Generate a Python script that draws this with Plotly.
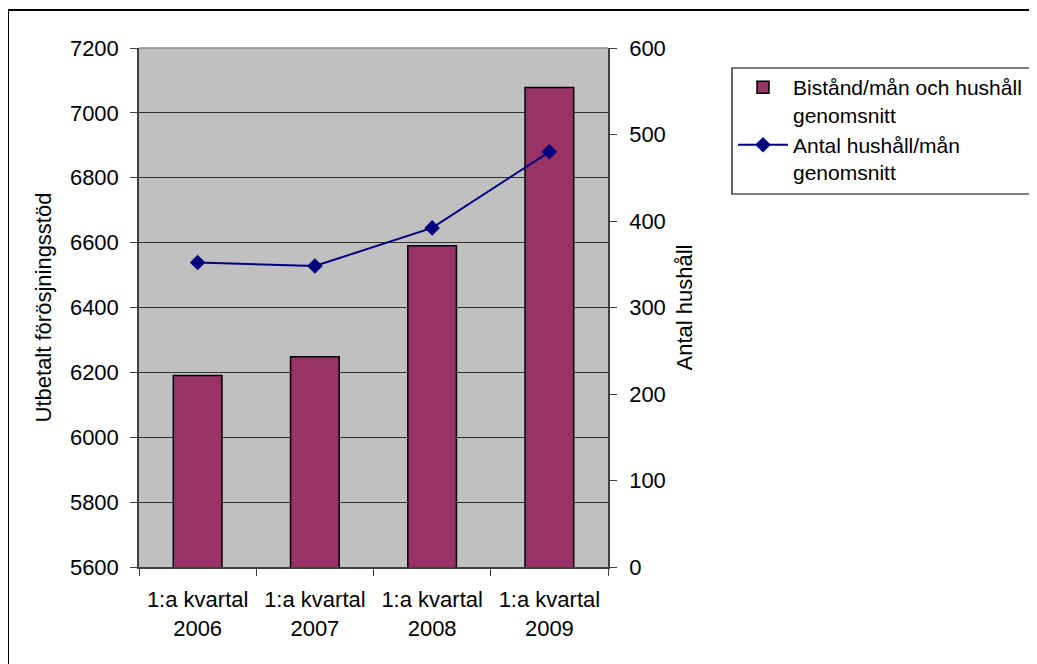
import plotly.graph_objects as go

categories = ["1:a kvartal<br>2006", "1:a kvartal<br>2007", "1:a kvartal<br>2008", "1:a kvartal<br>2009"]
bistand = [6190, 6248, 6590, 7078]
antal_hushall = [352, 348, 392, 480]

bar_name = "Bistånd/mån och hushåll<br>genomsnitt"
line_name = "Antal hushåll/mån<br>genomsnitt"

# the page body adds an 8px margin; compensate so the figure matches screen coords
OFF = 8
W, H = 1037 - OFF, 664 - OFF
L, T = 139 - OFF, 48 - OFF
R = W - (608 - OFF)
B = H - (567 - OFF)
pw, ph = W - L - R, H - T - B

def px(x):  # screen x -> paper fraction
    return (x - OFF - L) / pw

def py(y):  # screen y -> paper fraction
    return (H - B - (y - OFF)) / ph

FONT = "Liberation Sans, Arial, sans-serif"

fig = go.Figure()
fig.add_trace(go.Bar(
    x=categories, y=bistand, name=bar_name,
    marker=dict(color="#993366", line=dict(color="black", width=1.5)),
    yaxis="y",
))
fig.add_trace(go.Scatter(
    x=categories, y=antal_hushall, name=line_name, mode="lines+markers",
    line=dict(color="#000080", width=2),
    marker=dict(symbol="diamond", size=12, color="#000080"),
    yaxis="y2",
))

fig.update_layout(
    width=W, height=H,
    margin=dict(l=L, r=R, t=T, b=B, autoexpand=False),
    paper_bgcolor="white",
    plot_bgcolor="#C0C0C0",
    font=dict(family=FONT, size=22, color="black"),
    bargap=0.585,
    showlegend=True,
    legend=dict(
        x=px(733), y=py(67), xanchor="left", yanchor="top",
        bgcolor="rgba(0,0,0,0)", borderwidth=0,
        font=dict(family=FONT, size=21, color="black"),
        itemwidth=50, valign="top", tracegroupgap=4,
    ),
    xaxis=dict(
        type="category",
        showline=True, linecolor="#404040", linewidth=1.5,
        ticks="outside", ticklen=7, tickcolor="#404040", tickwidth=1,
        tickson="boundaries", ticklabelstandoff=12,
        showgrid=False, fixedrange=True,
    ),
    yaxis=dict(
        range=[5600, 7200], dtick=200, tick0=5600,
        showline=True, linecolor="#404040", linewidth=1.5,
        ticks="outside", ticklen=7, tickcolor="#404040",
        ticklabelstandoff=7,
        showgrid=True, gridcolor="#303030", gridwidth=1,
        zeroline=False,
        title=dict(text="Utbetalt förösjningsstöd", standoff=12,
                   font=dict(family=FONT, size=22)),
    ),
    yaxis2=dict(
        range=[0, 600], dtick=100, tick0=0,
        overlaying="y", side="right",
        showline=True, linecolor="#404040", linewidth=1.5,
        ticks="outside", ticklen=7, tickcolor="#404040",
        ticklabelstandoff=8,
        showgrid=False, zeroline=False,
        title=dict(text="Antal hushåll", standoff=12,
                   font=dict(family=FONT, size=22)),
    ),
    shapes=[
        # outer chart border
        dict(type="rect", xref="paper", yref="paper",
             x0=px(8), x1=px(1050), y0=py(680), y1=py(10),
             line=dict(color="black", width=2), layer="above"),
        # legend box
        dict(type="rect", xref="paper", yref="paper",
             x0=px(732), x1=px(1050), y0=py(194), y1=py(68),
             line=dict(color="black", width=1.2), layer="above"),
        # top border of plot area
        dict(type="line", xref="paper", yref="paper",
             x0=0, x1=1, y0=1, y1=1,
             line=dict(color="#888888", width=1.5), layer="above"),
    ],
)

fig.write_html("out.html")
